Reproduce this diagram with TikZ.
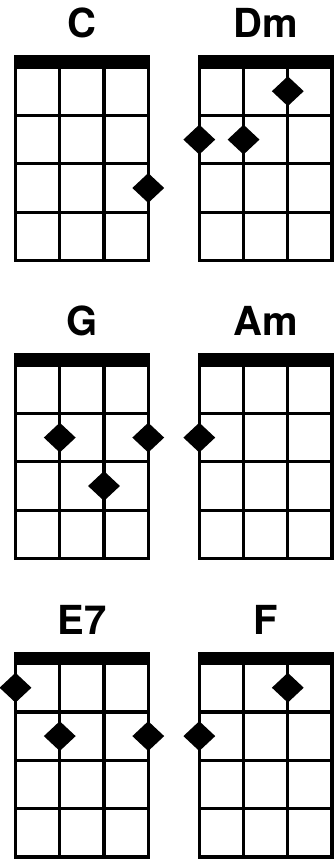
\documentclass[tikz,border=0pt]{standalone}
\usepackage{fontspec}
\setmainfont{TeX Gyre Heros}
\usetikzlibrary{shapes.geometric}
\tikzset{
  gridline/.style={line width=3.3pt},
  nutbar/.style={fill=black},
  fingerdot/.style={diamond, fill=black, draw=none, inner sep=0pt, minimum width=32pt, minimum height=30pt},
  chordname/.style={anchor=base, inner sep=0pt, font=\fontsize{40}{40}\selectfont\bfseries},
}
\newcommand{\ukegrid}[4]{% #1 id, #2 x of left string, #3 y of nut top, #4 label
  \fill[nutbar] ({#2-1.65},{#3}) rectangle ({#2+132.75+1.65},{#3+12});
  \draw[gridline] ({#2},{#3+12}) rectangle ({#2+132.75},{#3+12+193.6});
  \foreach \s in {1,2} {\draw[gridline] ({#2+\s*44.25},{#3+12}) -- ({#2+\s*44.25},{#3+12+193.6});}
  \foreach \f in {1,2,3} {\draw[gridline] ({#2},{#3+12+\f*48.4}) -- ({#2+132.75},{#3+12+\f*48.4});}
  \node[chordname] (#1) at ({#2+66.4},{#3-17.5}) {#4};
}
\newcommand{\ukedot}[5]{% #1 name, #2 x0, #3 ytop, #4 string, #5 fret
  \node[fingerdot] (#1) at ({#2+(#4-1)*44.25},{#3+12+(#5-0.5)*48.4}) {};
}
\begin{document}
\begin{tikzpicture}[x=1pt,y=-1pt]
\useasboundingbox (0,0) rectangle (335,859);
% row 1
\ukegrid{C}{15.5}{55}{C}
\ukedot{C-a}{15.5}{55}{4}{3}
\ukegrid{Dm}{199.3}{55}{Dm}
\ukedot{Dm-a}{199.3}{55}{1}{2}
\ukedot{Dm-b}{199.3}{55}{2}{2}
\ukedot{Dm-c}{199.3}{55}{3}{1}
% row 2
\ukegrid{G}{15.5}{353}{G}
\ukedot{G-a}{15.5}{353}{2}{2}
\ukedot{G-b}{15.5}{353}{4}{2}
\ukedot{G-c}{15.5}{353}{3}{3}
\ukegrid{Am}{199.3}{353}{Am}
\ukedot{Am-a}{199.3}{353}{1}{2}
% row 3
\ukegrid{E7}{15.5}{651.5}{E7}
\ukedot{E7-a}{15.5}{651.5}{1}{1}
\ukedot{E7-b}{15.5}{651.5}{2}{2}
\ukedot{E7-c}{15.5}{651.5}{4}{2}
\ukegrid{F}{199.3}{651.5}{F}
\ukedot{F-a}{199.3}{651.5}{1}{2}
\ukedot{F-b}{199.3}{651.5}{3}{1}
\end{tikzpicture}
\end{document}
